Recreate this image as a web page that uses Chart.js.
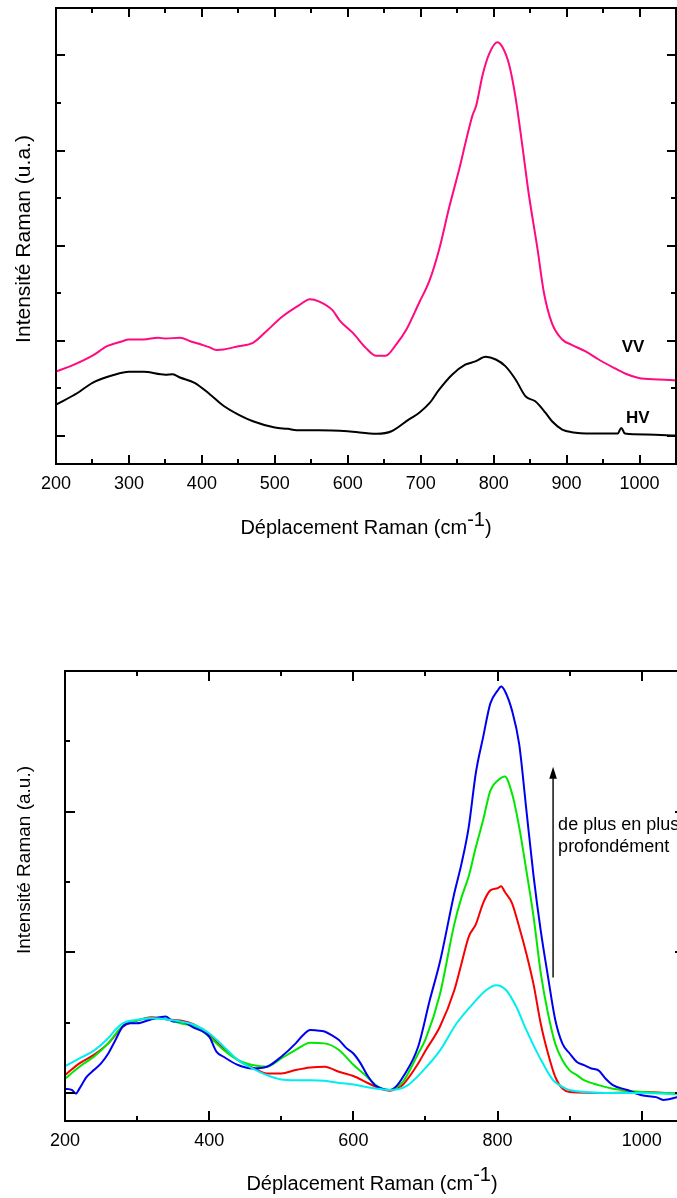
<!DOCTYPE html>
<html><head><meta charset="utf-8">
<script src="https://cdn.jsdelivr.net/npm/chart.js@4.4.1/dist/chart.umd.min.js"></script>
<style>
html,body{margin:0;padding:0;background:#fff;overflow:hidden;width:677px;height:1198px;position:relative;}
#c1{position:absolute;left:0;top:0;}
#c2{position:absolute;left:0;top:600px;}
</style></head><body>
<canvas id="c1" width="677" height="560"></canvas>
<canvas id="c2" width="700" height="598"></canvas>
<script>
const FONT = "'Liberation Sans', Arial, Helvetica, sans-serif";

// ---------- Top chart: VV / HV ----------
const topTickLabels = [200, 300, 400, 500, 600, 700, 800, 900, 1000];
const vvShift = [200,220,250,270,290,300,320,340,350,370,385,400,410,420,430,450,470,488,510,534,548,561,579,589,607,625,639,652,666,680,698,712,725,739,753,762,771,776,785,794,805,812,821,830,839,848,860,869,880,894,907,926,944,963,981,999,1026,1050];
const vvIntensity = [0.675,0.73,0.84,0.94,0.99,1.01,1.01,1.03,1.02,1.03,0.99,0.955,0.93,0.90,0.905,0.94,0.975,1.095,1.25,1.375,1.435,1.41,1.32,1.21,1.08,0.92,0.84,0.84,0.955,1.11,1.40,1.63,1.95,2.40,2.81,3.10,3.37,3.47,3.80,4.02,4.14,4.09,3.91,3.56,3.07,2.55,1.97,1.50,1.18,1.01,0.955,0.885,0.80,0.72,0.65,0.605,0.59,0.58];
const hvShift = [200,230,250,280,300,320,350,360,370,390,410,430,450,470,500,518,530,560,600,640,660,684,698,712,725,743,761,775,789,803,816,830,844,857,871,880,894,907,940,970,975,980,1010,1050];
const hvIntensity = [0.325,0.45,0.555,0.64,0.67,0.67,0.64,0.645,0.61,0.555,0.44,0.31,0.22,0.15,0.084,0.07,0.056,0.056,0.045,0.018,0.045,0.17,0.24,0.34,0.48,0.64,0.745,0.78,0.83,0.80,0.73,0.59,0.41,0.36,0.24,0.15,0.063,0.035,0.021,0.02,0.08,0.02,0.01,0.0];

// ---------- Bottom chart: depth series ----------
const bottomTickLabels = [200, 400, 600, 800, 1000];
const blueShift = [200,210,215,220,230,240,250,260,270,280,290,300,320,340,350,360,380,400,410,420,440,460,480,500,520,530,540,550,560,570,580,590,600,610,620,630,640,650,660,669,690,706,720,740,750,760,770,780,790,800,805,810,820,830,840,850,860,870,880,890,900,910,920,930,940,950,960,980,1000,1020,1030,1050];
const blueIntensity = [0.03,0.02,-0.005,0.03,0.114,0.162,0.21,0.28,0.376,0.471,0.495,0.495,0.524,0.543,0.507,0.507,0.46,0.40,0.293,0.257,0.198,0.174,0.186,0.257,0.352,0.41,0.448,0.443,0.436,0.41,0.376,0.32,0.28,0.21,0.12,0.055,0.03,0.02,0.05,0.114,0.33,0.66,0.93,1.42,1.63,1.89,2.28,2.53,2.77,2.86,2.89,2.86,2.72,2.48,2.01,1.54,1.15,0.825,0.52,0.35,0.28,0.22,0.197,0.173,0.16,0.10,0.055,0.02,-0.017,-0.03,-0.05,-0.03];
const greenShift = [200,220,240,260,280,300,320,340,360,380,400,420,440,460,480,500,520,540,560,580,600,620,630,640,650,660,669,690,700,720,740,750,760,770,780,790,800,810,820,830,840,850,860,870,880,890,900,910,920,940,960,1000,1050];
const greenIntensity = [0.10,0.186,0.257,0.352,0.476,0.514,0.53,0.524,0.495,0.471,0.40,0.305,0.233,0.198,0.186,0.245,0.305,0.357,0.352,0.305,0.2,0.11,0.06,0.03,0.02,0.04,0.08,0.28,0.38,0.70,1.2,1.39,1.54,1.75,1.94,2.15,2.22,2.25,2.13,1.89,1.58,1.25,0.85,0.564,0.35,0.232,0.16,0.126,0.09,0.055,0.03,0.007,-0.005];
const redShift = [200,220,240,260,280,300,320,340,360,380,400,420,440,460,480,500,520,540,560,580,600,620,640,650,660,669,690,700,720,740,750,760,770,780,790,800,805,810,820,830,840,850,860,870,880,890,900,950,1000,1050];
const redIntensity = [0.126,0.21,0.27,0.352,0.47,0.514,0.538,0.524,0.514,0.483,0.41,0.317,0.233,0.18,0.138,0.138,0.162,0.18,0.186,0.15,0.12,0.07,0.025,0.015,0.03,0.06,0.21,0.30,0.47,0.73,0.92,1.11,1.20,1.35,1.44,1.455,1.47,1.43,1.35,1.18,0.99,0.77,0.49,0.28,0.114,0.03,0.007,0.0,0.007,-0.005];
const cyanShift = [200,220,240,260,270,280,300,320,340,360,380,400,420,440,460,480,500,520,540,560,580,600,620,640,650,674,697,720,743,766,784,798,812,826,840,858,877,886,900,950,1000,1050];
const cyanIntensity = [0.19,0.245,0.30,0.39,0.45,0.495,0.52,0.53,0.524,0.507,0.483,0.424,0.33,0.233,0.174,0.126,0.095,0.09,0.09,0.086,0.071,0.06,0.04,0.025,0.02,0.05,0.16,0.30,0.493,0.635,0.73,0.766,0.73,0.612,0.446,0.256,0.09,0.055,0.02,0.0,0.0,-0.01];

function pairs(xs, ys) { return xs.map((x, i) => ({ x: x, y: ys[i] })); }

const framePlugin = {
  id: 'frame',
  afterDatasetsDraw(chart, args, o) {
    const ctx = chart.ctx, a = chart.chartArea, xs = chart.scales.x, ys = chart.scales.y;
    const isMajor = (v, m) => Math.abs(v / m - Math.round(v / m)) < 1e-6;
    ctx.save();
    ctx.strokeStyle = '#000';
    ctx.lineWidth = 2;
    ctx.strokeRect(a.left, a.top, a.right - a.left, a.bottom - a.top);
    ctx.beginPath();
    for (let k = Math.ceil(xs.min / o.xMinor - 1e-9); k * o.xMinor < xs.max - 1e-9; k++) {
      const v = k * o.xMinor;
      if (v <= xs.min + 1e-9) continue;
      const px = Math.round(xs.getPixelForValue(v));
      const L = isMajor(v, o.xMajor) ? o.major : o.minor;
      ctx.moveTo(px, a.bottom); ctx.lineTo(px, a.bottom - L);
      ctx.moveTo(px, a.top); ctx.lineTo(px, a.top + L);
    }
    for (let k = Math.ceil(ys.min / o.yMinor - 1e-9); k * o.yMinor < ys.max - 1e-9; k++) {
      const v = k * o.yMinor;
      if (v <= ys.min + 1e-9) continue;
      const py = Math.round(ys.getPixelForValue(v));
      const L = isMajor(v, o.yMajor) ? o.major : o.minor;
      ctx.moveTo(a.left, py); ctx.lineTo(a.left + L, py);
      ctx.moveTo(a.right, py); ctx.lineTo(a.right - L, py);
    }
    ctx.stroke();

    // annotations
    ctx.fillStyle = '#000';
    ctx.textBaseline = 'alphabetic';
    (o.labels || []).forEach(l => {
      ctx.font = l.font;
      ctx.textAlign = 'left';
      ctx.fillText(l.text, xs.getPixelForValue(l.x), ys.getPixelForValue(l.y));
    });
    if (o.arrow) {
      const ax = xs.getPixelForValue(o.arrow.x);
      const y0 = ys.getPixelForValue(o.arrow.y0);
      const y1 = ys.getPixelForValue(o.arrow.y1);
      ctx.lineWidth = 1.4;
      ctx.beginPath(); ctx.moveTo(ax, y0); ctx.lineTo(ax, y1 + 8); ctx.stroke();
      ctx.beginPath();
      ctx.moveTo(ax, y1); ctx.lineTo(ax - 3.8, y1 + 12); ctx.lineTo(ax + 3.8, y1 + 12); ctx.closePath();
      ctx.fill();
    }

    // x title with superscript
    const t = o.xTitle;
    ctx.font = t.size + 'px ' + FONT;
    const w1 = ctx.measureText(t.main).width, w2 = ctx.measureText(t.sup).width, w3 = ctx.measureText(t.tail).width;
    const sx = t.cx - (w1 + w2 + w3) / 2;
    ctx.textAlign = 'left';
    ctx.fillText(t.main, sx, t.baseline);
    ctx.fillText(t.sup, sx + w1, t.baseline - t.raise);
    ctx.fillText(t.tail, sx + w1 + w2, t.baseline);

    // y title
    const yt = o.yTitle;
    ctx.save();
    ctx.translate(yt.cx, yt.cy);
    ctx.rotate(-Math.PI / 2);
    ctx.font = yt.size + 'px ' + FONT;
    ctx.textAlign = 'center';
    ctx.textBaseline = 'middle';
    ctx.fillText(yt.text, 0, 0);
    ctx.restore();
    ctx.restore();
  }
};

function makeChart(id, datasets, cfg) {
  return new Chart(document.getElementById(id), {
    type: 'line',
    data: { datasets: datasets },
    options: {
      responsive: false,
      animation: false,
      devicePixelRatio: 1,
      events: [],
      layout: { padding: cfg.padding },
      elements: { point: { radius: 0 }, line: { borderWidth: 2, cubicInterpolationMode: 'monotone' } },
      plugins: { legend: { display: false }, tooltip: { enabled: false }, frame: cfg.frame },
      scales: {
        x: {
          type: 'linear', min: cfg.xMin, max: cfg.xMax,
          grid: { display: false, drawTicks: false },
          border: { display: false },
          afterBuildTicks: s => { s.ticks = cfg.tickLabels.map(v => ({ value: v })); },
          afterFit: s => { s.height = cfg.xHeight; },
          ticks: {
            autoSkip: false, maxRotation: 0, padding: cfg.labelPad, color: '#000',
            font: { family: FONT, size: 18 },
            callback: v => String(v)
          }
        },
        y: { type: 'linear', display: false, min: cfg.yMin, max: cfg.yMax }
      }
    },
    plugins: [framePlugin]
  });
}

makeChart('c1', [
  { data: pairs(hvShift, hvIntensity), borderColor: '#000000', order: 1 },
  { data: pairs(vvShift, vvIntensity), borderColor: '#ff0a80', order: 0 }
], {
  padding: { left: 56, top: 8, right: 1, bottom: 0 },
  xMin: 200, xMax: 1050, yMin: -0.3, yMax: 4.5,
  tickLabels: topTickLabels, xHeight: 96, labelPad: 9,
  frame: {
    xMinor: 50, xMajor: 100, yMinor: 0.5, yMajor: 1, major: 9, minor: 5,
    labels: [
      { text: 'VV', x: 975.6, y: 0.88, font: 'bold 17px ' + FONT },
      { text: 'HV', x: 981.5, y: 0.128, font: 'bold 17px ' + FONT }
    ],
    xTitle: { main: 'Déplacement Raman (cm', sup: '-1', tail: ')', cx: 366, baseline: 534, raise: 8, size: 20 },
    yTitle: { text: 'Intensité Raman (u.a.)', cx: 24, cy: 239, size: 21 }
  }
});

makeChart('c2', [
  { data: pairs(blueShift, blueIntensity), borderColor: '#0000f0', order: 1 },
  { data: pairs(greenShift, greenIntensity), borderColor: '#00e800', order: 2 },
  { data: pairs(redShift, redIntensity), borderColor: '#f80000', order: 3 },
  { data: pairs(cyanShift, cyanIntensity), borderColor: '#00eef0', order: 0 }
], {
  padding: { left: 65, top: 71, right: 15, bottom: 0 },
  xMin: 200, xMax: 1060, yMin: -0.2, yMax: 3.0,
  tickLabels: bottomTickLabels, xHeight: 77, labelPad: 9,
  frame: {
    xMinor: 100, xMajor: 200, yMinor: 0.5, yMajor: 1, major: 10, minor: 5,
    labels: [
      { text: 'de plus en plus', x: 884, y: 1.87, font: '18px ' + FONT },
      { text: 'profondément', x: 884, y: 1.713, font: '18px ' + FONT }
    ],
    arrow: { x: 877, y0: 0.82, y1: 2.32 },
    xTitle: { main: 'Déplacement Raman (cm', sup: '-1', tail: ')', cx: 372, baseline: 590, raise: 9, size: 20 },
    yTitle: { text: 'Intensité Raman (a.u.)', cx: 25, cy: 260, size: 19 }
  }
});
</script>
</body></html>
